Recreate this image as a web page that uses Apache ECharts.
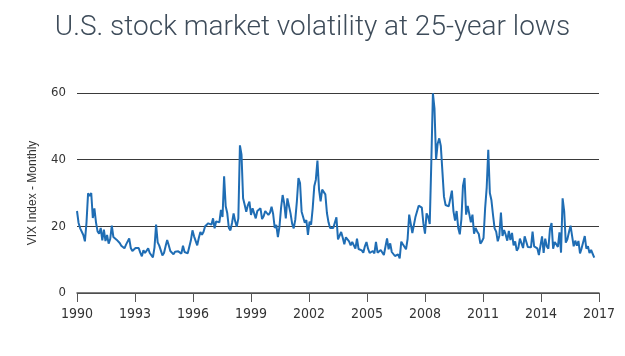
<!DOCTYPE html>
<html>
<head>
    <meta charset="utf-8">
    <title>VIX</title>
    <script src="https://cdn.jsdelivr.net/npm/echarts@6/dist/echarts.min.js"></script>
    <style>
        html, body { margin: 0; padding: 0; background: #fff; }
        #chart { width: 625px; height: 356px; }
    </style>
</head>
<body>
<div id="chart"></div>
<script type="text/javascript">
    // VIX month-end close, Jan 1990 .. Apr 2017 (one row per year)
    var vix1990s = [
        24.6, 21.0, 19.4, 19.6, 17.4, 15.5, 21.1, 29.9, 29.1, 30.0, 22.5, 25.4,
        21.2, 18.5, 17.8, 19.5, 15.8, 19.0, 15.6, 17.4, 14.8, 16.2, 20.2, 16.8,
        17.0, 16.0, 15.6, 15.0, 14.2, 13.8, 13.4, 14.5, 15.0, 16.4, 13.5, 12.6,
        12.4, 13.5, 12.9, 13.5, 12.1, 11.0, 12.8, 12.0, 12.3, 13.4, 12.0, 11.6,
        10.7, 13.7, 20.5, 15.2, 14.2, 14.6, 11.3, 12.0, 14.0, 15.9, 14.3, 12.6,
        12.0, 11.6, 12.4, 12.2, 12.5, 12.0, 11.8, 14.2, 12.3, 12.8, 11.9, 12.5,
        15.8, 18.8, 17.0, 16.8, 14.3, 16.5, 18.3, 17.5, 18.4, 20.0, 19.6, 20.9,
        21.3, 20.5, 22.4, 19.4, 21.5, 22.0, 21.2, 24.9, 22.8, 35.0, 26.0, 23.9,
        19.5, 18.8, 21.0, 23.9, 21.5, 19.9, 22.4, 44.3, 41.5, 28.4, 26.5, 24.4,
        26.3, 27.4, 23.4, 25.4, 26.0, 22.4, 24.6, 24.5, 25.4, 22.2, 23.0, 24.6
    ];
    var vix2000s = [
        24.9, 23.4, 24.1, 25.9, 23.7, 19.5, 20.4, 16.8, 19.9, 25.5, 29.4, 26.9,
        22.4, 28.4, 28.6, 23.9, 20.8, 19.4, 22.0, 27.5, 34.5, 33.0, 24.4, 23.8,
        21.1, 21.9, 17.4, 21.4, 20.5, 25.4, 32.0, 34.0, 39.7, 31.1, 27.5, 31.0,
        31.2, 29.6, 24.0, 21.2, 19.5, 19.5, 19.5, 19.6, 22.7, 16.1, 16.3, 18.3,
        16.6, 14.6, 16.7, 16.4, 15.5, 14.3, 15.3, 15.3, 13.3, 16.3, 13.2, 13.3,
        12.8, 12.1, 14.0, 15.3, 13.3, 12.0, 11.6, 12.6, 11.9, 15.3, 12.1, 12.1,
        12.9, 12.3, 11.4, 11.6, 16.4, 13.1, 14.9, 12.3, 12.0, 11.1, 10.9, 11.6,
        10.4, 15.4, 14.6, 14.2, 13.1, 16.2, 23.5, 23.4, 18.0, 18.5, 22.9, 22.5,
        26.2, 26.5, 25.6, 20.8, 17.8, 23.9, 22.9, 20.7, 39.4, 59.9, 55.3, 40.0,
        44.8, 46.4, 44.1, 36.5, 28.9, 26.4, 25.9, 26.0, 25.6, 30.7, 24.5, 21.7
    ];
    var vix2010s = [
        24.6, 19.5, 17.6, 22.1, 32.1, 34.5, 23.5, 26.1, 23.7, 21.2, 23.5, 17.8,
        19.5, 18.4, 17.7, 14.8, 15.5, 16.5, 25.3, 31.6, 43.0, 30.0, 27.8, 23.4,
        19.4, 18.4, 15.5, 17.2, 24.1, 17.1, 18.9, 17.5, 15.7, 18.6, 15.9, 18.0,
        14.3, 15.5, 12.7, 13.5, 16.3, 16.9, 13.5, 17.0, 16.6, 13.8, 13.7, 13.7,
        18.4, 14.0, 13.9, 13.4, 11.4, 11.6, 17.0, 12.0, 16.3, 14.0, 13.3, 19.2,
        21.0, 13.3, 15.3, 14.6, 13.8, 18.2, 12.1, 28.4, 24.5, 15.1, 16.1, 18.2,
        20.2, 20.6, 14.0, 15.7, 14.2, 15.6, 11.9, 13.4, 13.3, 17.1, 13.3, 14.0,
        12.0, 12.9, 12.4, 10.6
    ];
    var yearLabels = ['1990', '1993', '1996', '1999', '2002', '2005', '2008', '2011', '2014', '2017'];
    var monthSpan = 330; // months covered by the x axis in the original chart

    var vix = vix1990s.concat(vix2000s, vix2010s);
    var points = [];
    for (var i = 0; i < vix.length; i++) {
        points.push([i, vix[i]]);
    }
    var step = monthSpan / (yearLabels.length - 1);

    var myChart = echarts.init(document.getElementById('chart'));
    var option = {
        animation: false,
        backgroundColor: '#ffffff',
        title: {
            text: 'U.S. stock market volatility at 25-year lows',
            left: 'center',
            top: 9,
            textStyle: {
                fontFamily: 'Roboto',
                fontWeight: 300,
                fontSize: 28,
                color: '#3e4c5a'
            }
        },
        grid: {
            left: 77,
            right: 26,
            top: 93,
            bottom: 63
        },
        xAxis: {
            type: 'value',
            min: 0,
            max: monthSpan,
            interval: step,
            axisLine: { lineStyle: { color: '#555', width: 1.5 } },
            axisTick: { show: true, length: 9, lineStyle: { color: '#555' } },
            splitLine: { show: false },
            axisLabel: {
                margin: 14,
                color: '#333',
                fontSize: 14,
                fontFamily: "'Liberation Sans Narrow', 'DejaVu Sans Condensed', sans-serif",
                formatter: function (v) {
                    return yearLabels[Math.round(v / step)];
                }
            }
        },
        yAxis: {
            type: 'value',
            min: 0,
            max: 60,
            interval: 20,
            name: 'VIX Index - Monthly',
            nameLocation: 'middle',
            nameGap: 38,
            nameTextStyle: {
                color: '#333',
                fontSize: 12,
                fontFamily: "'Liberation Sans', sans-serif"
            },
            axisLine: { show: false },
            axisTick: { show: false },
            axisLabel: {
                margin: 11,
                color: '#333',
                fontSize: 13,
                fontFamily: "'Liberation Sans Narrow', 'DejaVu Sans Condensed', sans-serif",
                padding: [0, 0, 6, 0]
            },
            splitLine: { lineStyle: { color: '#3a3a3a', width: 1 } }
        },
        series: [{
            type: 'line',
            data: points,
            showSymbol: false,
            lineStyle: { color: '#1f6db4', width: 2 },
            z: 3
        }]
    };
    myChart.setOption(option);
</script>
</body>
</html>
